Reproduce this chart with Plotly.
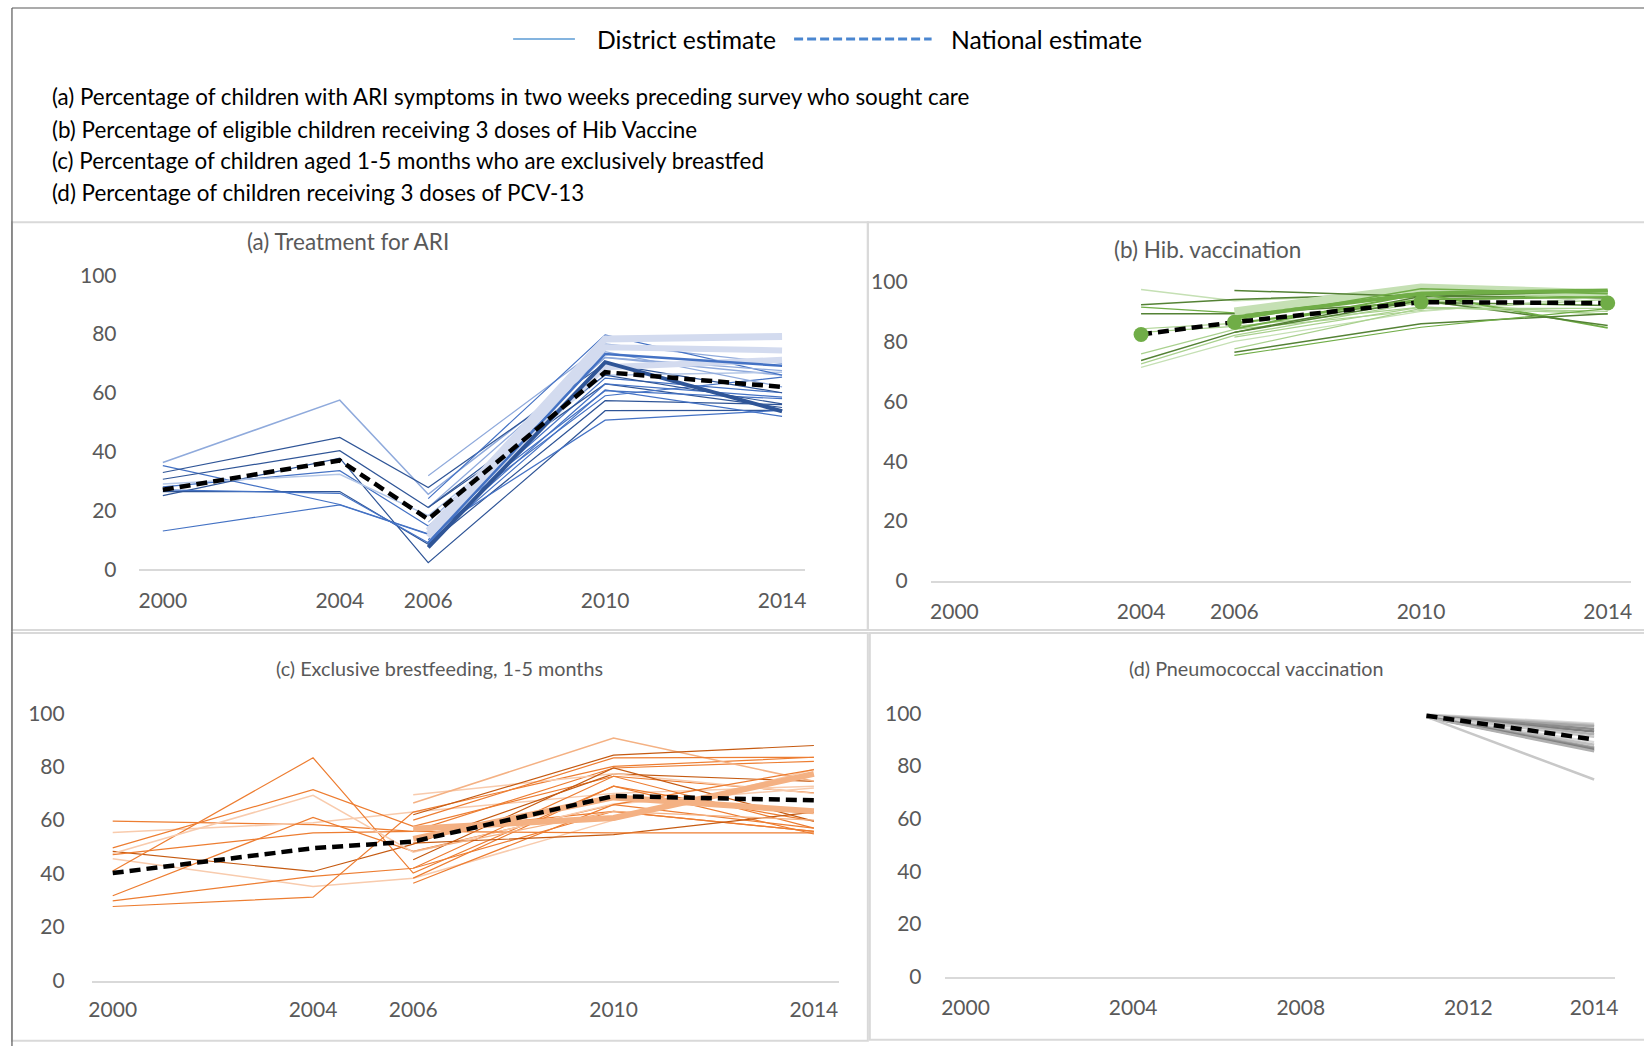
import plotly.graph_objects as go

W, H = 1644, 1057
YS = 1 / 0.988             # compensates the vertical squeeze observed in the captured page
FONT = "Lato"

# ---------------- data ----------------
YEARS_5 = [2000, 2004, 2006, 2010, 2014]
YEARS_HIB = [2004, 2006, 2010, 2014]
PCV_X = [2011, 2015]          # 2015 position carries the "2014" tick label in the original
TICKS_ABC = [2000, 2004, 2006, 2010, 2014]
TICKS_D = [2000, 2004, 2008, 2012, 2015]
TICKTEXT_D = ["2000", "2004", "2008", "2012", "2014"]
Y_TICKS = [0, 20, 40, 60, 80, 100]

ARI_NATIONAL = [27, 37, 17, 67, 62]
ARI_DISTRICTS = [
    [36.3, 57.5, 25.5, 72, 66],
    [35.2, 22, 12, 65, 60],
    [32.9, 44.8, 27.8, 70, 60],
    [30.6, 40.3, 21, 63, 55],
    [28, 33.5, 14.7, 60.7, 58],
    [26.4, 26.4, 8.5, 57.3, 56],
    [25, 37.8, 2.2, 53.9, 54],
    [13, 21.9, 11.9, 50.7, 54],
    [29, 32.3, 18.2, 66, 67],
    [27, 25.8, 9, 61, 52],
    [None, None, 31.8, 76.6, 70],
    [None, None, 24, 79.7, 66],
    [None, None, 16, 72, 67.5],
    [None, None, 10, 63, 58.5],
    [None, None, 14, 59, 65.3],
    [None, None, 21, 74, 62],
    [None, None, 21, 66, 56.2],
    [None, None, 13, 78.3, 79.1],
    [None, None, 11, 75.5, 74.4],
    [None, None, 12, 68.7, 71.2],
    [None, None, 9, 73.2, 69.2],
    [None, None, 7.4, 70.4, 53.7],
]

HIB_NATIONAL = [82.3, 86.4, 93.1, 92.8]
HIB_DISTRICTS = [
    [97.3, 93.6, 96, 95],
    [92.2, 94, 96, 96.5],
    [91.4, 89.5, 95, 95],
    [89.2, 89.2, 93, 92],
    [84.2, 86, 93, 89],
    [83, 85, 91.4, 90],
    [75.8, 84, 90.3, 94],
    [73.6, 83, 95, 94.5],
    [72.5, 82, 93, 96],
    [71.3, 80, 90, 95],
    [None, 90, 98, 96],
    [None, 97, 95, 96.8],
    [None, 87, 97.6, 95.9],
    [None, 84.2, 95.9, 84.5],
    [None, 83, 93.6, 85.3],
    [None, 81.4, 91.4, 89.2],
    [None, 77.5, 91, 91],
    [None, 76.4, 85.9, 89.2],
    [None, 75.3, 84.7, 90.9],
    [None, 88, 96, 97],
    [None, 86, 94, 94.8],
]

EBF_NATIONAL = [40.2, 49.5, 52, 69, 67.4]
EBF_DISTRICTS = [
    [59.6, 58.3, 55.8, 63.3, 55.8],
    [55.4, 59, 63, 70, 72.7],
    [49.6, 71.4, 57.7, 76.4, 70.2],
    [48.3, 40.8, 51, 77.3, 74.5],
    [47.1, 55.2, 55.8, 79.5, 82],
    [45.6, 35.2, 38.3, 60, 78.9],
    [41, 83.3, 40.2, 72.7, 59.6],
    [31.7, 61, 48.3, 65.8, 57],
    [29.8, 39, 42, 63.3, 55.8],
    [27.7, 31.2, 63, 80.1, 83.5],
    [47.5, 69.3, 48, 66, 72],
    [None, None, 69.5, 77.3, 70],
    [None, None, 66.4, 90.7, 74.5],
    [None, None, 62, 84.3, 87.9],
    [None, None, 60, 83.3, 83.5],
    [None, None, 45.2, 79.5, 59.6],
    [None, None, 42, 76.4, 57],
    [None, None, 38.3, 72.7, 54.8],
    [None, None, 36.4, 65.8, 78.9],
    [None, None, 51.4, 54.6, 63],
    [None, None, 55.8, 55.2, 55.2],
    [None, None, 48.3, 63.3, 60],
    [None, None, 56.8, 60.8, 77.3],
    [None, None, 53, 68.5, 63.3],
]

PCV_NATIONAL = [99, 90]
PCV_DISTRICTS = [
    [99.5, 96], [99.3, 95.5], [99, 95], [99, 94], [98.8, 93], [99, 92],
    [99, 91], [98.8, 89], [98.6, 88], [98.7, 87], [98.5, 86.5], [98.5, 86],
    [98.4, 85.5], [98.6, 74.8],
]

# ---------------- styles ----------------
DB, MB, LB, VLB, XLB = "#2F5597", "#4472C4", "#8FAADC", "#B4C7E7", "#D3DBEF"
ARI_STYLE = [(LB, 1.5), (MB, 1.2), (DB, 1.2), (DB, 1.2), (MB, 1.2), (DB, 1.2), (DB, 1.2),
             (MB, 1.2), (VLB, 1.5), (MB, 1.2), (LB, 1.2), (MB, 1.2), (LB, 1.2), (MB, 1.2),
             (MB, 1.2), (LB, 1.2), (DB, 1.2), (XLB, 7), (XLB, 6), (XLB, 6), (MB, 2.5), (DB, 4)]
DG, MG, LG, VLG = "#548235", "#70AD47", "#A9D18E", "#C5E0B4"
HIB_STYLE = [(VLG, 1.5), (DG, 1.5), (MG, 1.2), (DG, 1.5), (LG, 1.2), (LG, 1.2), (LG, 1.2),
             (DG, 1.5), (LG, 1.2), (VLG, 1.2), (VLG, 8), (DG, 1.5), (MG, 1.5), (MG, 2),
             (DG, 1.5), (LG, 1.2), (LG, 1.2), (DG, 1.5), (MG, 1.2), (MG, 4), (MG, 2)]
DO, MO, LO, VLO = "#C55A11", "#ED7D31", "#F4B183", "#F8CBAD"
EBF_STYLE = [(MO, 1.2), (VLO, 1.5), (MO, 1.2), (DO, 1.2), (MO, 1.2), (VLO, 1.5), (MO, 1.2),
             (MO, 1.2), (MO, 1.2), (MO, 1.2), (VLO, 1.5), (VLO, 1.5), (LO, 1.5), (DO, 1.2),
             (MO, 1.2), (DO, 1.2), (MO, 1.2), (MO, 1.2), (MO, 1.2), (DO, 1.2), (MO, 1.2),
             (LO, 1.2), (LO, 6), (LO, 6)]
GRAYS = ["#D9D9D9", "#BFBFBF", "#A6A6A6", "#8C8C8C", "#7F7F7F", "#B0B0B0", "#C8C8C8"]

# panel geometry (pixels): x0, x1, y_zero, px per unit, x range, label standoffs
PANELS = {
    "a": dict(x0=136, x1=805, y0=568.3, ppu=2.936, xr=[1999.45, 2014.52], ysd=21, xsd=12),
    "b": dict(x0=931, x1=1634, y0=580, ppu=2.99, xr=[1999.49, 2014.5], ysd=22, xsd=11),
    "c": dict(x0=89, x1=839, y0=979, ppu=2.67, xr=[1999.58, 2014.5], ysd=26, xsd=9),
    "d": dict(x0=945, x1=1618, y0=975, ppu=2.63, xr=[1999.5, 2015.5], ysd=22, xsd=11),
}
YMAX = 110

fig = go.Figure()


def px(x):
    return x / W


def py(y):
    return 1 - (y * YS) / H


axis_ids = {"a": ("x", "y"), "b": ("x2", "y2"), "c": ("x3", "y3"), "d": ("x4", "y4")}


def add_lines(panel, xs, series, styles):
    xa, ya = axis_ids[panel]
    for vals, (col, w) in zip(series, styles):
        fig.add_trace(go.Scatter(x=xs, y=vals, mode="lines", xaxis=xa, yaxis=ya,
                                 line=dict(color=col, width=w), showlegend=False,
                                 connectgaps=False, hoverinfo="skip"))


def add_national(panel, xs, vals, markers=False):
    xa, ya = axis_ids[panel]
    fig.add_trace(go.Scatter(x=xs, y=vals, mode="lines+markers" if markers else "lines",
                             xaxis=xa, yaxis=ya,
                             line=dict(color="black", width=4.5, dash="11px,6px"),
                             marker=dict(color="#70AD47", size=15) if markers else None,
                             showlegend=False, hoverinfo="skip"))


add_lines("a", YEARS_5, ARI_DISTRICTS, ARI_STYLE)
add_national("a", YEARS_5, ARI_NATIONAL)
add_lines("b", YEARS_HIB, HIB_DISTRICTS, HIB_STYLE)
add_national("b", YEARS_HIB, HIB_NATIONAL, markers=True)
add_lines("c", YEARS_5, EBF_DISTRICTS, EBF_STYLE)
add_national("c", YEARS_5, EBF_NATIONAL)
add_lines("d", PCV_X, PCV_DISTRICTS, [(GRAYS[i % len(GRAYS)], 2.5) for i in range(len(PCV_DISTRICTS))])
add_national("d", PCV_X, PCV_NATIONAL)

tickfont = dict(family=FONT, size=21, color="#595959")
layout_axes = {}
for key, (xa, ya) in axis_ids.items():
    p = PANELS[key]
    ytop = p["y0"] - YMAX * p["ppu"]
    xname = "xaxis" if xa == "x" else "xaxis" + xa[1:]
    yname = "yaxis" if ya == "y" else "yaxis" + ya[1:]
    tv = TICKS_D if key == "d" else TICKS_ABC
    tt = TICKTEXT_D if key == "d" else [str(t) for t in TICKS_ABC]
    layout_axes[xname] = dict(domain=[px(p["x0"]), px(p["x1"])], range=p["xr"], anchor=ya,
                              tickvals=tv, ticktext=tt, showgrid=False, zeroline=False,
                              showline=True, linecolor="#D9D9D9", linewidth=2, ticks="",
                              tickfont=dict(family=FONT, size=21, color="#595959"),
                              ticklabelstandoff=int(p["xsd"]), fixedrange=True)
    layout_axes[yname] = dict(domain=[py(p["y0"]), py(ytop)], range=[0, YMAX], anchor=xa,
                              tickvals=Y_TICKS, showgrid=False, zeroline=False, showline=False,
                              ticks="", tickfont=tickfont, ticklabelstandoff=int(p["ysd"]),
                              fixedrange=True)

shapes = []
FRAME = "#D9D9D9"
for (x0, x1, y0, y1) in [(9, 868, 222, 629), (868, 1650, 222, 629),
                         (9, 868, 632, 1039), (870, 1650, 632, 1038)]:
    shapes.append(dict(type="rect", xref="paper", yref="paper", x0=px(x0), x1=px(x1),
                       y0=py(y1), y1=py(y0), line=dict(color=FRAME, width=2), layer="below"))
# outer border
shapes.append(dict(type="line", xref="paper", yref="paper", x0=px(9), x1=px(9), y0=py(8), y1=0,
                   line=dict(color="#595959", width=1.2)))
shapes.append(dict(type="line", xref="paper", yref="paper", x0=px(9), x1=px(1650), y0=py(8), y1=py(8),
                   line=dict(color="#595959", width=1.2)))
# legend samples
shapes.append(dict(type="line", xref="paper", yref="paper", x0=px(512), x1=px(574), y0=py(39), y1=py(39),
                   line=dict(color="#5B9BD5", width=1.5)))
shapes.append(dict(type="line", xref="paper", yref="paper", x0=px(794), x1=px(932), y0=py(39), y1=py(39),
                   line=dict(color="#4A86D0", width=3, dash="9px,4px")))

annotations = []


def text(x, y, s, size, color="black", anchor="left"):
    annotations.append(dict(x=px(x), y=py(y), xref="paper", yref="paper", text=s, showarrow=False,
                            xanchor=anchor, yanchor="middle",
                            font=dict(family=FONT, size=size, color=color)))


text(594, 39, "District estimate", 24.7)
text(949, 39, "National estimate", 24.7)
DESC = [
    "(a) Percentage of children with ARI symptoms in two weeks preceding survey who sought care",
    "(b) Percentage of eligible children receiving 3 doses of Hib Vaccine",
    "(c) Percentage of children aged 1-5 months who are exclusively breastfed",
    "(d) Percentage of children receiving 3 doses of PCV-13",
]
for s, yy in zip(DESC, [96.5, 129, 160.4, 192]):
    text(47, yy, s, 22.4)

text(346, 241, "(a) Treatment for ARI", 22.5, "#595959", "center")
text(1209, 249.5, "(b) Hib. vaccination", 22.5, "#595959", "center")
text(438, 667, "(c) Exclusive brestfeeding, 1-5 months", 19.8, "#595959", "center")
text(1258, 667, "(d) Pneumococcal vaccination", 19.8, "#595959", "center")

fig.update_layout(width=W, height=H, autosize=False, margin=dict(l=0, r=0, t=0, b=0),
                  paper_bgcolor="white", plot_bgcolor="white", showlegend=False,
                  shapes=shapes, annotations=annotations, **layout_axes)

fig.write_html("out.html")
